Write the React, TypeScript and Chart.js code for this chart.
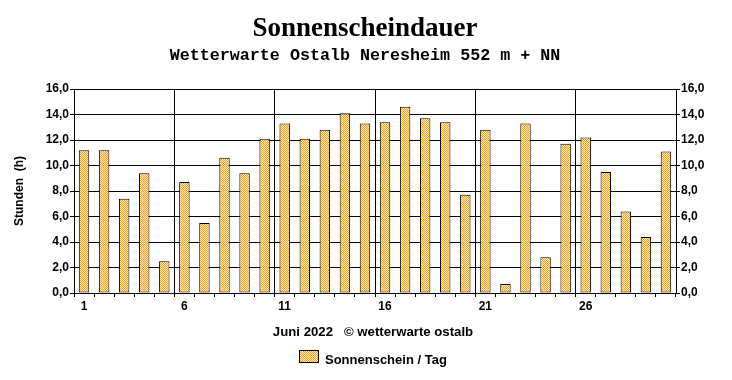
import React, { useEffect, useRef } from 'react';
import { Chart, registerables } from 'chart.js';

Chart.register(...registerables);

const days = ['1', '2', '3', '4', '5', '6', '7', '8', '9', '10', '11', '12', '13', '14', '15', '16', '17', '18', '19', '20', '21', '22', '23', '24', '25', '26', '27', '28', '29', '30'];
const sunshineHours = [11.2, 11.2, 7.4, 9.4, 2.5, 8.7, 5.5, 10.6, 9.4, 12.1, 13.3, 12.1, 12.8, 14.1, 13.3, 13.4, 14.6, 13.7, 13.4, 7.7, 12.8, 0.7, 13.3, 2.8, 11.7, 12.2, 9.5, 6.4, 4.4, 11.1];
const shownDayLabels = ['1', '6', '11', '16', '21', '26'];

const titleText = 'Sonnenscheindauer';
const subtitleText = 'Wetterwarte Ostalb Neresheim 552 m + NN';
const footerText = 'Juni 2022   \u00A9 wetterwarte ostalb';
const legendText = 'Sonnenschein / Tag';
const yTitleText = 'Stunden  (h)';

function makePattern(): CanvasPattern | string {
  const c = document.createElement('canvas');
  c.width = 2;
  c.height = 2;
  const g = c.getContext('2d');
  if (!g) return '#FFC060';
  g.fillStyle = '#FFF0C4';
  g.fillRect(0, 0, 2, 2);
  g.fillStyle = '#FF9C14';
  g.fillRect(0, 0, 1, 1);
  g.fillRect(1, 1, 1, 1);
  const p = g.createPattern(c, 'repeat');
  return p || '#FFC060';
}

export default function App() {
  const ref = useRef<HTMLCanvasElement | null>(null);

  useEffect(() => {
    document.body.style.margin = '0';
    const canvas = ref.current;
    if (!canvas) return;
    const pattern = makePattern();
    const tickFont = { family: '"Liberation Sans", Arial, sans-serif', weight: 'bold' as const, size: 12 };

    const textPlugin = {
      id: 'texts',
      afterDraw(chart: Chart) {
        const ctx = chart.ctx;
        ctx.save();
        ctx.fillStyle = '#000';
        ctx.textAlign = 'center';
        ctx.textBaseline = 'alphabetic';
        ctx.font = 'bold 27px "Liberation Serif", "Times New Roman", serif';
        ctx.fillText(titleText, 365, 36);
        ctx.font = 'bold 16.7px "Liberation Mono", "Courier New", monospace';
        ctx.fillText(subtitleText, 365, 60);
        ctx.font = 'bold 13.2px "Liberation Sans", Arial, sans-serif';
        ctx.fillText(footerText, 373, 336);
        // legend
        ctx.fillStyle = pattern as any;
        ctx.fillRect(299, 350, 20, 13);
        ctx.strokeStyle = '#000';
        ctx.lineWidth = 1;
        ctx.strokeRect(299.5, 350.5, 19, 12);
        ctx.fillStyle = '#000';
        ctx.textAlign = 'left';
        ctx.font = 'bold 13px "Liberation Sans", Arial, sans-serif';
        ctx.fillText(legendText, 325, 364);
        // y title
        ctx.translate(22.5, 191);
        ctx.rotate(-Math.PI / 2);
        ctx.textAlign = 'center';
        ctx.font = 'bold 12px "Liberation Sans", Arial, sans-serif';
        ctx.fillText(yTitleText, 0, 0);
        ctx.restore();
      },
    };

    const chart = new Chart(canvas, {
      type: 'bar',
      data: {
        labels: days,
        datasets: [
          {
            label: legendText,
            data: sunshineHours,
            backgroundColor: pattern as any,
            borderColor: '#000',
            borderWidth: 1,
            borderSkipped: false,
            barPercentage: 0.52,
            categoryPercentage: 1,
            yAxisID: 'y',
          },
        ],
      },
      options: {
        responsive: false,
        animation: false,
        layout: { padding: { top: 89, left: 0, right: 0, bottom: 0 } },
        plugins: {
          legend: { display: false },
          title: { display: false },
          tooltip: { enabled: false },
        },
        scales: {
          x: {
            type: 'category',
            offset: true,
            grid: {
              offset: true,
              color: (c: any) => (c.index && c.index % 5 === 0 ? '#000' : 'rgba(0,0,0,0)'),
              tickColor: '#000',
              tickLength: 4,
              lineWidth: 1,
            },
            border: { color: '#000', width: 1 },
            ticks: {
              autoSkip: false,
              maxRotation: 0,
              padding: 2,
              color: '#000',
              font: tickFont,
              callback: (_v: any, i: number) => (shownDayLabels.includes(days[i]) ? days[i] : ''),
            },
            afterFit: (s: any) => {
              s.height = 87;
            },
          },
          y: {
            position: 'left',
            min: 0,
            max: 16,
            grid: { color: '#000', tickColor: '#000', tickLength: 4, lineWidth: 1 },
            border: { color: '#000', width: 1 },
            ticks: {
              stepSize: 2,
              padding: 1,
              color: '#000',
              font: tickFont,
              callback: (v: any) => Number(v).toFixed(1).replace('.', ','),
            },
            afterFit: (s: any) => {
              s.width = 74;
            },
          },
          y2: {
            position: 'right',
            min: 0,
            max: 16,
            grid: { drawOnChartArea: false, tickColor: '#000', tickLength: 4, lineWidth: 1 },
            border: { color: '#000', width: 1 },
            ticks: {
              stepSize: 2,
              padding: 1,
              color: '#000',
              font: tickFont,
              callback: (v: any) => Number(v).toFixed(1).replace('.', ','),
            },
            afterFit: (s: any) => {
              s.width = 56;
            },
          },
        },
      },
      plugins: [textPlugin],
    });

    return () => {
      chart.destroy();
    };
  }, []);

  return (
    <div style={{ width: 732, height: 380 }}>
      <canvas ref={ref} width={732} height={380} style={{ display: 'block', width: 732, height: 380 }} />
    </div>
  );
}
